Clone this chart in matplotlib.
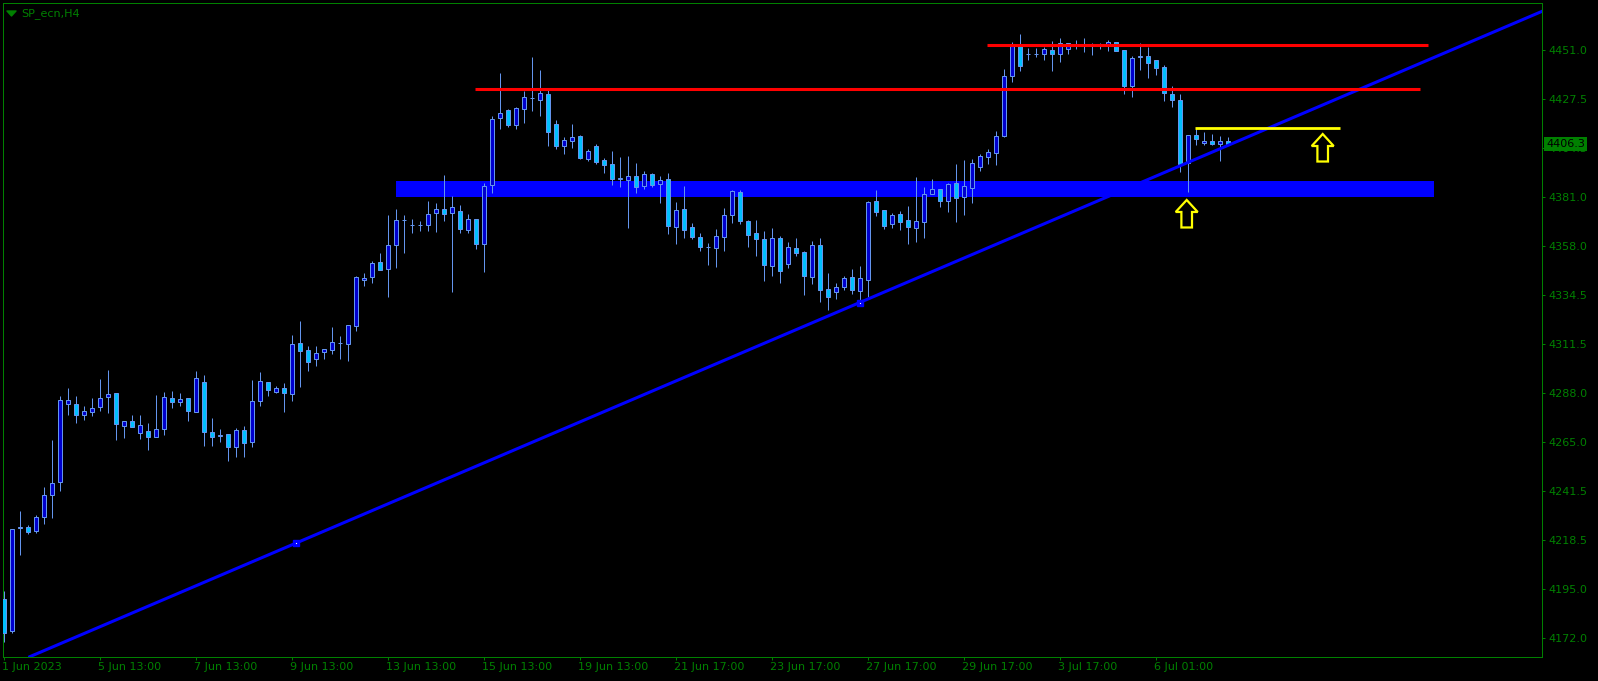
import matplotlib
matplotlib.use("Agg")
import matplotlib.pyplot as plt
import matplotlib.transforms as mtransforms
from matplotlib.patches import Polygon
from matplotlib.path import Path
import numpy as np

# ---------------- data ----------------
opens = [4190.4,4175.5,4224.0,4224.7,4222.9,4229.3,4239.7,4245.9,4282.9,4282.9,
         4277.9,4279.4,4281.5,4286.2,4288.1,4272.7,4274.8,4269.4,4270.1,4267.5,
         4271.3,4285.7,4284.1,4285.7,4279.4,4293.3,4269.6,4268.0,4268.6,4262.8,
         4270.5,4265.1,4284.3,4293.3,4288.8,4290.5,4287.6,4311.8,4308.5,4304.2,
         4307.5,4308.5,4311.8,4311.3,4319.9,4341.7,4343.1,4350.2,4346.9,4358.3,
         4370.3,4368.0,4368.0,4367.8,4373.5,4375.4,4373.5,4374.4,4365.4,4370.6,
         4358.8,4386.8,4418.5,4422.3,4415.2,4422.8,4428.3,4427.2,4430.1,4415.8,
         4405.6,4407.9,4410.2,4399.4,4405.4,4398.6,4396.7,4389.9,4389.1,4391.0,
         4386.6,4392.0,4387.5,4389.6,4367.1,4375.4,4366.8,4362.1,4357.6,4357.2,
         4362.4,4372.8,4383.4,4369.7,4364.0,4361.1,4348.6,4361.6,4349.6,4356.9,
         4355.0,4343.4,4358.3,4337.4,4336.3,4338.7,4343.1,4336.8,4341.7,4379.2,
         4374.9,4368.3,4373.2,4370.2,4366.6,4369.5,4382.8,4384.9,4379.5,4387.7,
         4381.1,4385.6,4395.6,4400.3,4402.2,4410.3,4438.5,4452.7,4449.2,4449.2,
         4449.2,4450.8,4449.2,4451.3,4453.8,4453.3,4453.3,4453.3,4453.3,4454.6,
         4450.9,4434.0,4447.8,4448.1,4446.1,4442.9,4430.1,4427.2,4397.5,4410.5,
         4406.7,4407.6,4406.5,4407.6]
highs = [4194.3,4223.6,4232.2,4225.6,4230.2,4243.6,4265.9,4286.7,4290.6,4286.8,
         4282.1,4285.9,4294.9,4299.1,4288.4,4274.8,4277.7,4277.7,4273.9,4287.3,
         4288.6,4289.0,4288.2,4285.7,4298.5,4296.8,4276.2,4271.0,4268.8,4271.5,
         4272.6,4294.4,4298.1,4293.5,4291.4,4292.8,4315.8,4322.4,4310.5,4310.5,
         4309.2,4319.5,4315.3,4320.5,4343.7,4345.0,4350.9,4354.5,4372.7,4375.5,
         4372.7,4370.6,4369.7,4379.3,4378.2,4391.7,4381.7,4377.4,4373.2,4370.8,
         4387.7,4419.5,4439.9,4422.9,4423.8,4431.6,4447.6,4441.5,4432.5,4417.7,
         4409.7,4415.8,4410.8,4404.1,4406.4,4399.6,4403.0,4400.2,4400.7,4397.2,
         4393.6,4392.5,4391.0,4392.5,4378.7,4386.3,4368.7,4364.0,4359.2,4365.9,
         4376.0,4384.5,4384.4,4370.3,4370.2,4365.1,4366.4,4362.7,4359.7,4361.6,
         4355.5,4360.2,4361.6,4345.0,4340.6,4343.6,4346.9,4348.3,4379.5,4384.5,
         4375.0,4373.5,4374.6,4376.9,4390.7,4386.0,4389.8,4385.0,4387.9,4396.9,
         4398.8,4399.1,4401.5,4403.8,4412.4,4441.8,4454.6,4458.5,4451.8,4451.8,
         4452.5,4455.1,4456.5,4454.3,4455.7,4456.5,4454.1,4454.4,4455.7,4454.7,
         4451.0,4448.1,4454.1,4452.2,4446.2,4443.8,4433.9,4430.1,4410.6,4414.0,
         4411.9,4411.0,4410.0,4409.5]
lows = [4170.3,4174.5,4211.4,4221.5,4222.0,4226.2,4229.1,4241.9,4277.9,4274.1,
        4275.6,4277.5,4279.8,4278.9,4266.1,4267.0,4272.3,4266.6,4261.3,4267.5,
        4268.4,4281.3,4282.2,4275.1,4279.4,4263.2,4263.2,4265.1,4256.1,4258.0,
        4258.0,4262.8,4281.9,4287.0,4288.1,4279.4,4284.6,4291.2,4298.8,4301.2,
        4304.5,4306.9,4304.5,4303.6,4317.8,4339.1,4340.6,4346.5,4333.9,4347.7,
        4354.8,4364.3,4365.2,4365.2,4364.8,4370.0,4336.3,4364.0,4364.0,4356.7,
        4345.8,4383.0,4413.3,4414.3,4413.6,4416.2,4422.2,4419.6,4405.6,4404.0,
        4401.8,4404.6,4399.4,4398.4,4397.0,4392.7,4387.0,4386.1,4366.6,4383.2,
        4385.2,4386.1,4378.5,4363.8,4359.1,4361.9,4361.4,4355.7,4349.1,4348.2,
        4355.7,4369.0,4368.5,4357.6,4353.4,4341.5,4343.9,4340.3,4347.7,4353.4,
        4334.9,4340.1,4331.5,4327.7,4333.0,4337.2,4335.3,4332.4,4333.9,4372.3,
        4366.2,4366.6,4365.6,4359.1,4359.9,4361.9,4382.6,4376.5,4374.2,4369.5,
        4372.8,4378.5,4393.7,4397.0,4396.5,4409.8,4435.6,4441.1,4446.3,4447.8,
        4446.3,4441.1,4445.4,4449.2,4451.6,4449.9,4448.7,4451.3,4450.6,4450.5,
        4430.2,4428.8,4441.6,4437.8,4439.2,4426.9,4424.1,4393.2,4383.6,4406.0,
        4405.7,4406.0,4398.4,4406.0]
closes = [4174.5,4223.6,4224.5,4222.4,4229.3,4239.7,4245.4,4284.8,4284.8,4277.9,
          4279.6,4281.0,4285.7,4287.6,4273.4,4274.8,4272.3,4273.0,4267.5,4271.0,
          4286.2,4284.1,4285.2,4279.8,4295.2,4269.6,4267.5,4268.2,4262.8,4270.5,
          4264.7,4284.3,4293.8,4289.5,4290.5,4288.1,4311.3,4308.3,4303.1,4307.1,
          4309.0,4312.3,4311.9,4320.3,4343.1,4342.6,4349.8,4346.7,4358.3,4370.2,
          4370.4,4368.1,4368.1,4373.0,4375.4,4373.0,4376.3,4365.9,4370.6,4358.8,
          4386.3,4418.1,4420.9,4415.2,4423.3,4428.5,4428.4,4430.4,4412.2,4405.6,
          4408.1,4409.5,4399.9,4402.9,4398.0,4396.5,4389.9,4390.0,4391.0,4386.1,
          4392.0,4387.1,4389.1,4367.6,4374.9,4365.7,4362.4,4357.6,4357.7,4362.6,
          4372.5,4383.9,4370.0,4363.3,4361.4,4349.1,4361.6,4346.3,4357.4,4354.8,
          4343.9,4358.3,4337.2,4333.9,4338.7,4342.6,4337.2,4342.6,4378.7,4374.3,
          4367.6,4372.7,4369.5,4367.1,4369.7,4382.5,4384.9,4379.5,4387.2,4380.9,
          4386.4,4397.2,4400.5,4402.4,4410.0,4438.5,4452.7,4443.5,4449.3,4449.3,
          4451.3,4449.2,4454.1,4454.1,4453.9,4453.4,4453.4,4453.4,4454.6,4450.6,
          4434.0,4447.2,4447.9,4444.9,4442.6,4430.4,4427.2,4397.0,4410.5,4408.9,
          4408.0,4406.5,4407.6,4406.3]

date_tick_bars = [0, 12, 24, 36, 48, 60, 72, 84, 96, 108, 120, 132, 144]
date_tick_labels = ["1 Jun 2023", "5 Jun 13:00", "7 Jun 13:00", "9 Jun 13:00",
                    "13 Jun 13:00", "15 Jun 13:00", "19 Jun 13:00", "21 Jun 17:00",
                    "23 Jun 17:00", "27 Jun 17:00", "29 Jun 17:00", "3 Jul 17:00",
                    "6 Jul 01:00"]
price_ticks = [4451.0, 4427.5, 4404.5, 4381.0, 4358.0, 4334.5, 4311.5,
               4288.0, 4265.0, 4241.5, 4218.5, 4195.0, 4172.0]
price_tick_labels = ["4451.0", "4427.5", "4404.5", "4381.0", "4358.0", "4334.5",
                     "4311.5", "4288.0", "4265.0", "4241.5", "4218.5", "4195.0",
                     "4172.0"]

title = "SP_ecn,H4"
last_price = 4406.3

# drawn objects (bar index, price)
red_levels = [(122.9, 178.1, 4453.3), (58.9, 177.1, 4432.3)]
zone = (49.0, 178.8, 4381.4, 4388.8)
yellow_level = (148.9, 167.1, 4413.8)
trend_pts = [(36.5, 4216.9), (107.0, 4331.1)]
arrow_pts = [(147.9, 4379.8), (164.9, 4411.1)]

# ---------------- styling ----------------
BG = "black"
GREEN = "#008000"
WICK = "#6495ED"
BULL = "#0000CD"
BEAR = "#00BFFF"
PX = 0.72  # one pixel in points at 100 dpi

W, H = 1598, 681
fig = plt.figure(figsize=(W / 100, H / 100), dpi=100, facecolor=BG)
ax_l, ax_r, ax_t, ax_b = 2.5, 1541.5, 2.5, 656.7
ax = fig.add_axes([ax_l / W, (H - ax_b) / H, (ax_r - ax_l) / W, (ax_b - ax_t) / H])
ax.set_facecolor(BG)

n = len(opens)
x = np.arange(n)
o = np.array(opens); h = np.array(highs); l = np.array(lows); c = np.array(closes)

ax.set_xlim(-0.125, 192.25)
ax.set_ylim(4163.1, 4473.5)

# zone (background)
ax.fill_between([zone[0], zone[1]], zone[2], zone[3], color="#0000FF", lw=0, zorder=1)

# candles
ax.vlines(x, l, h, color=WICK, lw=PX, zorder=3)
bull = c >= o
colors = np.where(bull, BULL, BEAR)
bottoms = np.minimum(o, c)
heights = np.abs(c - o)
ax.bar(x, heights, bottom=bottoms, width=0.5, color=colors, edgecolor=WICK,
       linewidth=PX, zorder=4)

# trend line
(x1, y1), (x2, y2) = trend_pts
ax.axline((x1, y1), (x2, y2), color="#0000FF", lw=2.2, zorder=5)
for (tx, ty) in trend_pts:
    ax.plot([tx], [ty], marker="s", ms=5, color="#0000FF", zorder=6)
    ax.plot([tx], [ty], marker="s", ms=0.8, color="white", mew=0, zorder=7)

# red horizontal levels
for (xa, xb, yv) in red_levels:
    ax.plot([xa, xb], [yv, yv], color="#FF0000", lw=2.2, zorder=6,
            solid_capstyle="butt")

# yellow level
ax.plot([yellow_level[0], yellow_level[1]], [yellow_level[2]] * 2,
        color="#FFFF00", lw=2.0, zorder=6, solid_capstyle="butt")

# arrows (hollow up arrows), shape in pixels relative to tip
arrow_px = np.array([[0, 0], [11, -12], [5.3, -12], [5.3, -27.5],
                     [-5.3, -27.5], [-5.3, -12], [-11, -12]]) / 100.0
for (axx, ayy) in arrow_pts:
    tr = fig.dpi_scale_trans + mtransforms.ScaledTranslation(axx, ayy, ax.transData)
    poly = Polygon(arrow_px, closed=True, fill=False, edgecolor="#FFFF00",
                   lw=1.6, transform=tr, zorder=8, joinstyle="miter")
    ax.add_patch(poly)

# axes / ticks
for s in ax.spines.values():
    s.set_color(GREEN)
    s.set_linewidth(PX)

ax.yaxis.tick_right()
ax.set_yticks(price_ticks)
ax.set_yticklabels(price_tick_labels)
ax.tick_params(axis="y", colors=GREEN, length=2.2, width=PX, pad=3,
               labelsize=8, labelcolor=GREEN)
for t in ax.get_yticklabels():
    t.set_horizontalalignment("left")

ax.set_xticks(date_tick_bars)
ax.set_xticklabels(date_tick_labels)
ax.tick_params(axis="x", colors=GREEN, length=2.2, width=PX, pad=1.5,
               labelsize=8, labelcolor=GREEN)
for t in ax.get_xticklabels():
    t.set_horizontalalignment("left")
# shift x labels so they start at tick
offset = mtransforms.ScaledTranslation(-1.5 / 100, 0, fig.dpi_scale_trans)
for t in ax.get_xticklabels():
    t.set_transform(t.get_transform() + offset)

# current price label
blend = mtransforms.blended_transform_factory(ax.transAxes, ax.transData)
lab_off = mtransforms.ScaledTranslation(4.5 / 100, 0, fig.dpi_scale_trans)
ax.text(1.0, last_price, f"{last_price:.1f}", transform=blend + lab_off,
        ha="left", va="center", fontsize=8, color="black", clip_on=False,
        zorder=10,
        bbox=dict(boxstyle="square,pad=0.18", fc=GREEN, ec="none"))

# title with triangle
tri = Path([(-1, 0.55), (1, 0.55), (0, -0.55), (-1, 0.55)],
           [Path.MOVETO, Path.LINETO, Path.LINETO, Path.CLOSEPOLY])
aw, ah = ax_r - ax_l, ax_b - ax_t
ax.plot([(10.5 - ax_l) / aw], [1 - (12.5 - ax_t) / ah], marker=tri, ms=6.5,
        color=GREEN, transform=ax.transAxes, clip_on=False, zorder=10)
ax.text((21.5 - ax_l) / aw, 1 - (13.3 - ax_t) / ah, title, transform=ax.transAxes,
        ha="left", va="center", fontsize=8, color=GREEN, zorder=10)

fig.savefig("out.png", dpi=100, facecolor=BG)
